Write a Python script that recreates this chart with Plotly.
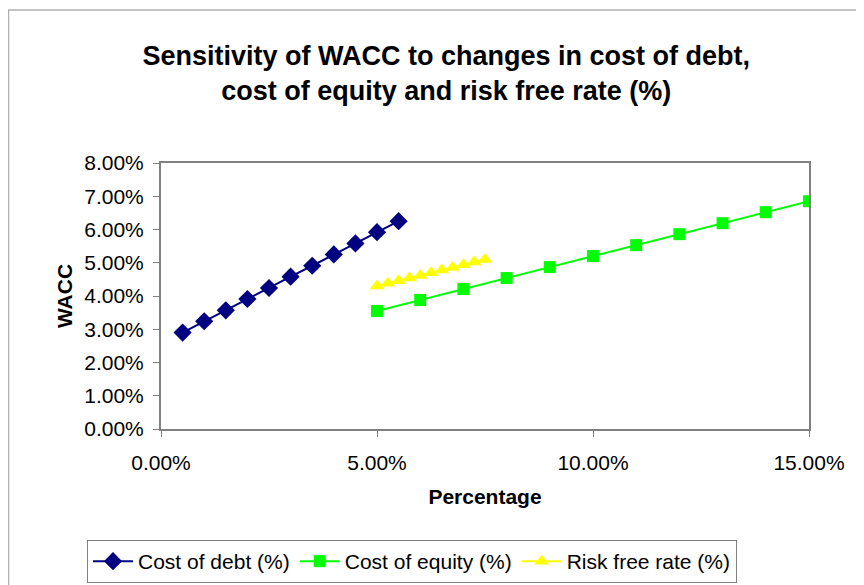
import plotly.graph_objects as go

# Data (percent)
debt_x = [0.5, 1.0, 1.5, 2.0, 2.5, 3.0, 3.5, 4.0, 4.5, 5.0, 5.5]
debt_wacc = [2.90, 3.24, 3.57, 3.91, 4.24, 4.58, 4.91, 5.25, 5.58, 5.92, 6.25]

equity_x = [5, 6, 7, 8, 9, 10, 11, 12, 13, 14, 15]
equity_wacc = [3.55, 3.88, 4.21, 4.54, 4.87, 5.20, 5.53, 5.86, 6.19, 6.52, 6.85]

rf_x = [5.0, 5.25, 5.5, 5.75, 6.0, 6.25, 6.5, 6.75, 7.0, 7.25, 7.5]
rf_wacc = [4.30, 4.38, 4.46, 4.54, 4.62, 4.70, 4.78, 4.86, 4.94, 5.02, 5.10]

x_ticks = [0, 5, 10, 15]
x_tick_labels = ["0.00%", "5.00%", "10.00%", "15.00%"]
y_ticks = [0, 1, 2, 3, 4, 5, 6, 7, 8]
y_tick_labels = ["0.00%", "1.00%", "2.00%", "3.00%", "4.00%", "5.00%", "6.00%", "7.00%", "8.00%"]

FONT = "Liberation Sans, Arial, sans-serif"

fig = go.Figure()
fig.add_trace(go.Scatter(x=debt_x, y=debt_wacc, mode="lines+markers", name="Cost of debt (%)",
                         line=dict(color="#000080", width=2),
                         marker=dict(symbol="diamond", size=14, color="#000080")))
fig.add_trace(go.Scatter(x=equity_x, y=equity_wacc, mode="lines+markers", name="Cost of equity (%)",
                         line=dict(color="#00FF00", width=2),
                         marker=dict(symbol="square", size=12, color="#00FF00")))
fig.add_trace(go.Scatter(x=rf_x, y=rf_wacc, mode="lines+markers", name="Risk free rate (%)",
                         line=dict(color="#FFFF00", width=2),
                         marker=dict(symbol="triangle-up", size=13, color="#FFFF00")))

# page has an 8px body margin: figure spans page x 8..864, y 8..585
fig.update_layout(
    width=856, height=577,
    paper_bgcolor="white", plot_bgcolor="white",
    margin=dict(l=153, r=55, t=155, b=156),
    font=dict(family=FONT, color="black", size=21),
    title=dict(text="<b>Sensitivity of WACC to changes in cost of debt,<br>cost of equity and risk free rate (%)</b>",
               x=0.512, xanchor="center", y=0.902, yanchor="middle",
               font=dict(size=27, family=FONT)),
    xaxis=dict(range=[0, 15], tickvals=x_ticks, ticktext=x_tick_labels,
               showgrid=False, zeroline=False, showline=True, linecolor="#808080", linewidth=2,
               mirror=True, ticks="outside", ticklen=6, tickcolor="#808080",
               ticklabelstandoff=8,
               title=dict(text="<b>Percentage</b>", font=dict(size=21), standoff=16)),
    yaxis=dict(range=[0, 8], tickvals=y_ticks, ticktext=y_tick_labels,
               showgrid=False, zeroline=False, showline=True, linecolor="#808080", linewidth=2,
               mirror=True, ticks="outside", ticklen=6, tickcolor="#808080",
               ticklabelstandoff=5,
               title=dict(text="<b>WACC</b>", font=dict(size=21), standoff=6)),
    legend=dict(orientation="h", xref="container", x=(87 - 8) / 856, xanchor="left",
                yref="container", y=1 - 532 / 577, yanchor="top",
                bordercolor="#808080", borderwidth=1, font=dict(size=21),
                itemwidth=40, tracegroupgap=0),
    showlegend=True,
)

# outer chart border
fig.add_shape(type="rect", xref="paper", yref="paper",
              x0=(8.5 - 161) / 648, x1=(870 - 161) / 648,
              y0=(429 - 590) / 266, y1=(429 - 10) / 266,
              line=dict(color="#b0b0b0", width=1.5), layer="below")

fig.write_html("out.html")
